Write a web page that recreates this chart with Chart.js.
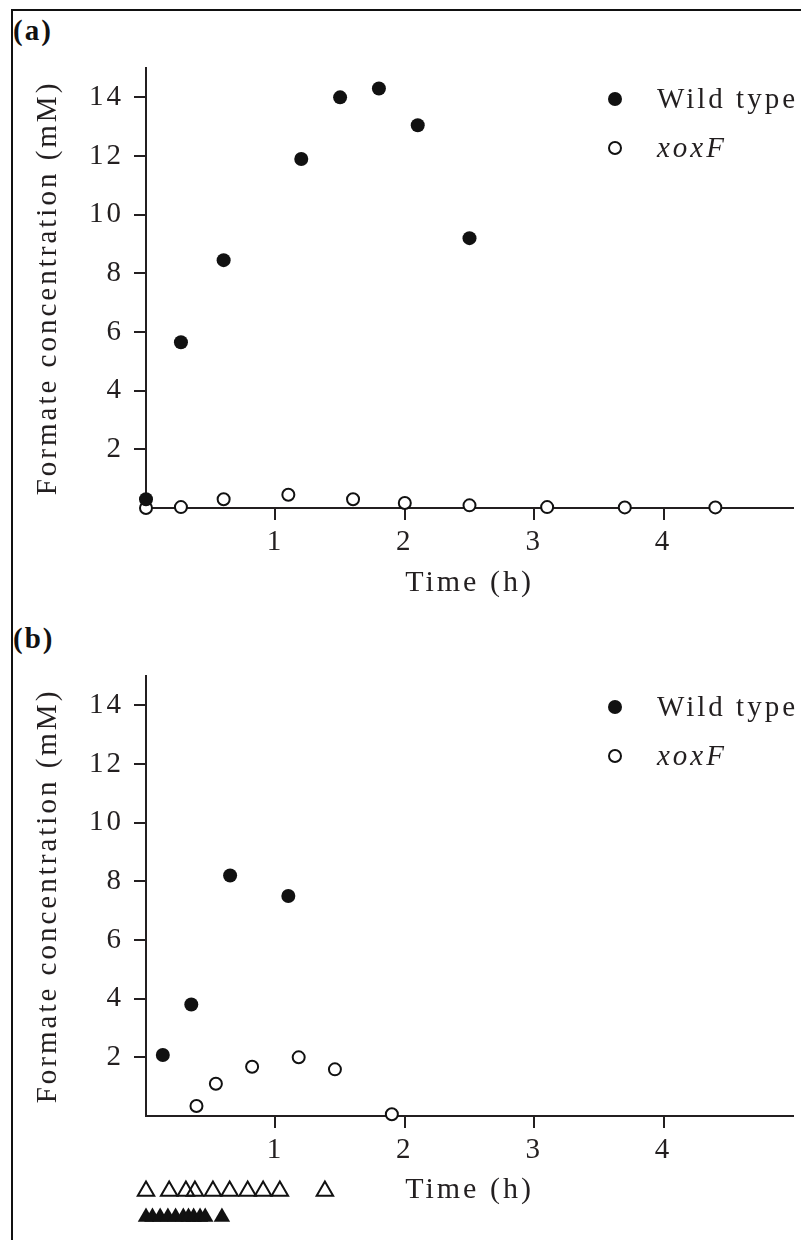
<!DOCTYPE html>
<html>
<head>
<meta charset="utf-8">
<script src="https://cdn.jsdelivr.net/npm/chart.js@4.4.1/dist/chart.umd.min.js"></script>
<style>
  body { margin: 0; background: #fff; width: 801px; height: 1240px; position: relative; overflow: hidden; }
  .frame { position: absolute; left: 11px; top: 9px; right: -5px; bottom: -5px; border-left: 2px solid #111; border-top: 2px solid #111; }
  canvas { position: absolute; left: 0; }
  .tag { position: absolute; left: 13px; font: bold 29px "Liberation Serif", serif; letter-spacing: 2px; color: #111; line-height: 30px; }
</style>
</head>
<body>
<div class="frame"></div>
<div class="tag" style="top:15px">(a)</div>
<div class="tag" style="top:623px">(b)</div>
<canvas id="chartA" width="801" height="620" style="top:0"></canvas>
<canvas id="chartB" width="801" height="620" style="top:620px"></canvas>
<canvas id="marksB" width="801" height="70" style="top:1170px"></canvas>
<script>
// panel (a): formate in methanol-grown culture
const timeA_wt = [0, 0.27, 0.6, 1.2, 1.5, 1.8, 2.1, 2.5];
const formA_wt = [0.3, 5.65, 8.45, 11.9, 14.0, 14.3, 13.05, 9.2];
const timeA_xox = [0, 0.27, 0.6, 1.1, 1.6, 2.0, 2.5, 3.1, 3.7, 4.4];
const formA_xox = [0, 0.03, 0.3, 0.45, 0.3, 0.17, 0.09, 0.03, 0.02, 0.02];

// panel (b)
const timeB_wt = [0.13, 0.35, 0.65, 1.1];
const formB_wt = [2.08, 3.8, 8.2, 7.5];
const timeB_xox = [0.39, 0.54, 0.82, 1.18, 1.46, 1.9];
const formB_xox = [0.34, 1.1, 1.68, 2.0, 1.59, 0.06];

// sampling marks under panel (b) axis
const openMarks = [0, 0.18, 0.31, 0.38, 0.52, 0.65, 0.79, 0.91, 1.04, 1.39];
const filledMarks = [0, 0.05, 0.11, 0.17, 0.23, 0.29, 0.33, 0.37, 0.42, 0.46, 0.59];

const seriesNames = ['Wild type', 'xoxF'];
const xTicks = [1, 2, 3, 4];
const yTicks = [2, 4, 6, 8, 10, 12, 14];
const xTitle = 'Time (h)';
const yTitle = 'Formate concentration (mM)';

const ink = '#231f20';
const serif = '"Liberation Serif", "Times New Roman", Times, serif';
const spacing = '3px';

const pts = (xs, ys) => xs.map((x, i) => ({ x: x, y: ys[i] }));

const spacingPlugin = {
  id: 'spacing',
  beforeLayout(chart) { chart.ctx.letterSpacing = spacing; },
  beforeDraw(chart) { chart.ctx.letterSpacing = spacing; }
};

// legend drawn inside plot area, top right; second label italic
const sideLegend = {
  id: 'sideLegend',
  afterDatasetsDraw(chart, args, opts) {
    if (!opts.show) return;
    const { ctx, chartArea } = chart;
    ctx.save();
    ctx.letterSpacing = spacing;
    seriesNames.forEach((name, i) => {
      const ds = chart.data.datasets[i];
      const y = chartArea.top + opts.top + i * opts.gap;
      ctx.fillStyle = ds.backgroundColor;
      ctx.strokeStyle = ds.borderColor;
      ctx.lineWidth = ds.borderWidth;
      Chart.helpers.drawPoint(ctx, { pointStyle: 'circle', radius: ds.pointRadius, borderWidth: ds.borderWidth }, opts.x, y);
      ctx.font = (i === 1 ? 'italic ' : '') + '29px ' + serif;
      ctx.fillStyle = ink;
      ctx.textAlign = 'left';
      ctx.textBaseline = 'alphabetic';
      ctx.fillText(name, opts.x + 42, y + 9);
    });
    ctx.restore();
  }
};

function panel(canvasId, wt, xox, top, axisHeight, titlePad) {
  return new Chart(document.getElementById(canvasId), {
    type: 'scatter',
    data: {
      datasets: [
        { label: seriesNames[0], data: wt, pointRadius: 7, backgroundColor: '#111', borderColor: '#111', borderWidth: 0, clip: false },
        { label: seriesNames[1], data: xox, pointRadius: 6, backgroundColor: '#fff', borderColor: '#111', borderWidth: 2, clip: false }
      ]
    },
    options: {
      responsive: false,
      animation: false,
      events: [],
      layout: { padding: { top: top, left: 0, right: 3, bottom: 0 } },
      plugins: {
        legend: { display: false },
        tooltip: { enabled: false },
        sideLegend: { show: true, x: 615, top: 31, gap: 49 }
      },
      scales: {
        x: {
          type: 'linear', min: 0, max: 5,
          afterBuildTicks: s => { s.ticks = xTicks.map(v => ({ value: v })); },
          afterFit: s => { s.height = axisHeight; },
          grid: { drawOnChartArea: false, drawTicks: true, tickLength: 12, tickWidth: 2, lineWidth: 2, tickColor: ink, color: ink },
          border: { display: true, color: ink, width: 2 },
          ticks: { color: ink, font: { family: serif, size: 29 }, padding: 5, maxRotation: 0, autoSkip: false },
          title: { display: true, text: xTitle, color: ink, font: { family: serif, size: 30 }, padding: { top: 0, bottom: titlePad } }
        },
        y: {
          type: 'linear', min: 0, max: 15,
          afterBuildTicks: s => { s.ticks = yTicks.map(v => ({ value: v })); },
          afterFit: s => { s.width = 146; },
          grid: { drawOnChartArea: false, drawTicks: true, tickLength: 12, tickWidth: 2, lineWidth: 2, tickColor: ink, color: ink },
          border: { display: true, color: ink, width: 2 },
          ticks: { color: ink, font: { family: serif, size: 29 }, padding: 10, autoSkip: false },
          title: { display: true, text: yTitle, color: ink, font: { family: serif, size: 29 }, padding: { top: 31, bottom: 0 } }
        }
      }
    },
    plugins: [spacingPlugin, sideLegend]
  });
}

panel('chartA', pts(timeA_wt, formA_wt), pts(timeA_xox, formA_xox), 68, 112, 19);
panel('chartB', pts(timeB_wt, formB_wt), pts(timeB_xox, formB_xox), 56, 124, 32);

// strip of triangles under panel (b), same time scale
const rowOpen = 1, rowFilled = 0;
new Chart(document.getElementById('marksB'), {
  type: 'scatter',
  data: {
    datasets: [
      { data: openMarks.map(t => ({ x: t, y: rowOpen })), pointStyle: 'triangle', pointRadius: 9.5, borderWidth: 2, borderColor: '#111', backgroundColor: 'rgba(0,0,0,0)', clip: false },
      { data: filledMarks.map(t => ({ x: t, y: rowFilled })), pointStyle: 'triangle', pointRadius: 9.5, borderWidth: 0, borderColor: '#111', backgroundColor: '#111', clip: false }
    ]
  },
  options: {
    responsive: false,
    animation: false,
    events: [],
    layout: { padding: { top: 21, left: 146, right: 3, bottom: 23 } },
    plugins: { legend: { display: false }, tooltip: { enabled: false } },
    scales: {
      x: { type: 'linear', min: 0, max: 5, display: false },
      y: { type: 'linear', min: 0, max: 1, display: false }
    }
  }
});
</script>
</body>
</html>
